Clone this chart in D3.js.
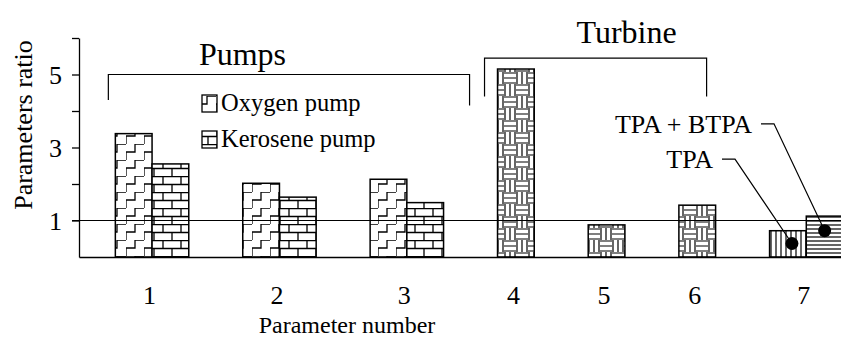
<!DOCTYPE html>
<html>
<head>
<meta charset="utf-8">
<script src="https://cdn.jsdelivr.net/npm/d3@7"></script>
<style>
  body { margin: 0; background: #fff; }
  svg text { font-family: "Liberation Serif", "Times New Roman", serif; fill: #000; }
</style>
</head>
<body>
<div id="chart"></div>
<script>
// categories (parameter number) and series values
const categories   = ["1", "2", "3", "4", "5", "6", "7"];
const oxygenPump   = [3.38, 2.02, 2.13, null, null, null, null];
const kerosenePump = [2.55, 1.64, 1.49, null, null, null, null];
const turbine      = [null, null, null, 5.15, 0.88, 1.42, null];
const tpa          = [null, null, null, null, null, null, 0.72];
const tpaBtpa      = [null, null, null, null, null, null, 1.12];
// black dots drawn inside the two bars of parameter 7
const tpaDot       = [null, null, null, null, null, null, 0.37];
const tpaBtpaDot   = [null, null, null, null, null, null, 0.72];

const yTickValues  = [1, 2, 3, 4, 5, 6];
const yTickLabels  = [1, 3, 5];
const refValue     = 1;

const W = 841, H = 339;

const svg = d3.select("#chart").append("svg")
    .attr("width", W)
    .attr("height", H);

// ---- patterns ----
const defs = svg.append("defs");

function pattern(id, w, h, draw) {
  const p = defs.append("pattern")
      .attr("id", id)
      .attr("patternUnits", "userSpaceOnUse")
      .attr("width", w)
      .attr("height", h);
  p.append("rect").attr("width", w).attr("height", h).attr("fill", "#fff");
  draw(p);
}

// stairs (oxygen pump)
pattern("stairs", 18, 16, p => {
  p.append("path")
      .attr("d", "M0,16 V8 H9 V0 H18")
      .attr("fill", "none").attr("stroke", "#000").attr("stroke-width", 1.3);
});
// bricks (kerosene pump)
pattern("bricks", 18, 16, p => {
  p.append("path")
      .attr("d", "M0,0.5 H18 M0,8.5 H18 M1,0 V8.5 M10,8.5 V16")
      .attr("fill", "none").attr("stroke", "#000").attr("stroke-width", 1.3);
});
// basket weave (turbine)
pattern("weave", 24, 24, p => {
  let d = "";
  [1, 6, 11].forEach(v => {
    d += "M0," + v + " H12 ";          // top-left horizontal
    d += "M" + (12 + v) + ",0 V12 ";   // top-right vertical
    d += "M" + v + ",12 V24 ";         // bottom-left vertical
    d += "M12," + (12 + v) + " H24 ";  // bottom-right horizontal
  });
  p.append("path")
      .attr("d", d)
      .attr("fill", "none").attr("stroke", "#000").attr("stroke-width", 1.2);
});
// vertical lines (TPA)
pattern("vlines", 5, 10, p => {
  p.append("path").attr("d", "M1,0 V10")
      .attr("stroke", "#000").attr("stroke-width", 1.2);
});
// horizontal lines (TPA + BTPA)
pattern("hlines", 10, 4, p => {
  p.append("path").attr("d", "M0,1 H10")
      .attr("stroke", "#000").attr("stroke-width", 1.2);
});

const series = [
  {name: "Oxygen pump",   values: oxygenPump,   fill: "url(#stairs)"},
  {name: "Kerosene pump", values: kerosenePump, fill: "url(#bricks)"},
  {name: "Turbine",       values: turbine,      fill: "url(#weave)"},
  {name: "TPA",           values: tpa,          fill: "url(#vlines)", dot: tpaDot},
  {name: "TPA + BTPA",    values: tpaBtpa,      fill: "url(#hlines)", dot: tpaBtpaDot}
];

// ---- layout in "bar units": every bar is 1 unit wide, groups separated by a gap ----
const leftPad = 0.99, gap = 1.47;
let u = leftPad;
const bars = [], groups = [];
categories.forEach((c, i) => {
  const present = series.filter(s => s.values[i] != null);
  const start = u;
  present.forEach(s => {
    bars.push({cat: c, i: i, s: s, v: s.values[i], u0: u, u1: u + 1});
    u += 1;
  });
  groups.push({cat: c, start: start, end: u, mid: (start + u) / 2});
  u += gap;
});
const totalUnits = u - gap;

const x = d3.scaleLinear().domain([0, totalUnits]).range([79, 843]);
const y = d3.scaleLinear().domain([0, 6]).range([257, 38]);

// ---- bars ----
svg.append("g").selectAll("rect")
  .data(bars)
  .join("rect")
    .attr("x", d => x(d.u0))
    .attr("y", d => y(d.v))
    .attr("width", d => x(d.u1) - x(d.u0))
    .attr("height", d => y(0) - y(d.v))
    .attr("fill", d => d.s.fill)
    .attr("stroke", "#000")
    .attr("stroke-width", 1.5);

// reference line at ratio = 1
svg.append("line")
    .attr("x1", 72).attr("x2", W)
    .attr("y1", y(refValue)).attr("y2", y(refValue))
    .attr("stroke", "#000").attr("stroke-width", 1.2);

// ---- axes ----
const yAxis = d3.axisLeft(y)
    .tickValues(yTickValues)
    .tickSize(7)
    .tickSizeOuter(0)
    .tickPadding(10)
    .tickFormat(d => yTickLabels.includes(d) ? d : "");
svg.append("g")
    .attr("transform", "translate(" + x(0) + ",0)")
    .call(yAxis)
    .call(g => g.selectAll("text").style("font-size", "26px").attr("dy", "0.34em"))
    .call(g => g.selectAll("line, path").attr("stroke", "#000").attr("stroke-width", 1.3));

const xAxis = d3.axisBottom(x)
    .tickValues(groups.map(g => g.mid))
    .tickFormat((d, i) => categories[i])
    .tickSize(0)
    .tickSizeOuter(0)
    .tickPadding(29);
svg.append("g")
    .attr("transform", "translate(0," + y(0) + ")")
    .call(xAxis)
    .call(g => g.selectAll("text").style("font-size", "26px").attr("dx", "-3"))
    .call(g => g.select(".domain").attr("stroke", "#000").attr("stroke-width", 1.5));

// axis titles
svg.append("text")
    .attr("x", 347).attr("y", 333)
    .attr("text-anchor", "middle")
    .style("font-size", "24px")
    .text("Parameter number");

svg.append("text")
    .attr("transform", "translate(32," + 125 + ") rotate(-90)")
    .attr("text-anchor", "middle")
    .style("font-size", "26px")
    .text("Parameters ratio");

// ---- dots in parameter 7 bars ----
svg.append("g").selectAll("circle")
  .data(bars.filter(d => d.s.dot))
  .join("circle")
    .attr("cx", d => x((d.u0 + d.u1) / 2) + (d.s.name === "TPA" ? 4 : 0))
    .attr("cy", d => y(d.s.dot[d.i]))
    .attr("r", 6.5)
    .attr("fill", "#000");

// ---- leader labels ----
const tpaBar = bars.find(d => d.s.name === "TPA");
const bothBar = bars.find(d => d.s.name === "TPA + BTPA");
const leaders = [
  {label: "TPA",        bar: tpaBar,  ty: 2.68, tx: 713},
  {label: "TPA + BTPA", bar: bothBar, ty: 3.65, tx: 752}
];
leaders.forEach(l => {
  const cx = x((l.bar.u0 + l.bar.u1) / 2) + (l.label === "TPA" ? 4 : 0);
  const cy = y(l.bar.s.dot[l.bar.i]);
  const ly = y(l.ty);
  svg.append("path")
      .attr("d", "M" + (l.tx + 9) + "," + ly + " H" + (l.tx + 22) + " L" + cx + "," + cy)
      .attr("fill", "none").attr("stroke", "#000").attr("stroke-width", 1.2);
  svg.append("text")
      .attr("x", l.tx).attr("y", ly + 9)
      .attr("text-anchor", "end")
      .style("font-size", "26px")
      .text(l.label);
});

// ---- group brackets ----
const g1 = groups[0], g3 = groups[2], g4 = groups[3], g6 = groups[5];
svg.append("path")
    .attr("d", "M" + (x(g1.start) - 7) + "," + y(4.3) + " V" + y(5) +
               " H" + (x(g3.end) + 26) + " V" + y(4.15))
    .attr("fill", "none").attr("stroke", "#000").attr("stroke-width", 1.2);
svg.append("path")
    .attr("d", "M" + (x(g4.start) - 13) + "," + y(4.4) + " V" + y(5.45) +
               " H" + (x(g6.end) - 9) + " V" + y(4.4))
    .attr("fill", "none").attr("stroke", "#000").attr("stroke-width", 1.2);

svg.append("text")
    .attr("x", x(groups[1].mid) - 37).attr("y", 65)
    .attr("text-anchor", "middle")
    .style("font-size", "32px")
    .text("Pumps");
svg.append("text")
    .attr("x", x(groups[4].mid) + 20).attr("y", 43)
    .attr("text-anchor", "middle")
    .style("font-size", "32px")
    .text("Turbine");

// ---- legend ----
const legend = svg.append("g");
series.slice(0, 2).forEach((s, k) => {
  const ly = 95 + k * 36;
  legend.append("rect")
      .attr("x", 202).attr("y", ly)
      .attr("width", 15).attr("height", 17)
      .attr("fill", s.fill)
      .attr("stroke", "#000").attr("stroke-width", 1.3);
  legend.append("text")
      .attr("x", 221).attr("y", ly + 16)
      .style("font-size", "24.5px")
      .text(s.name);
});
</script>
</body>
</html>
